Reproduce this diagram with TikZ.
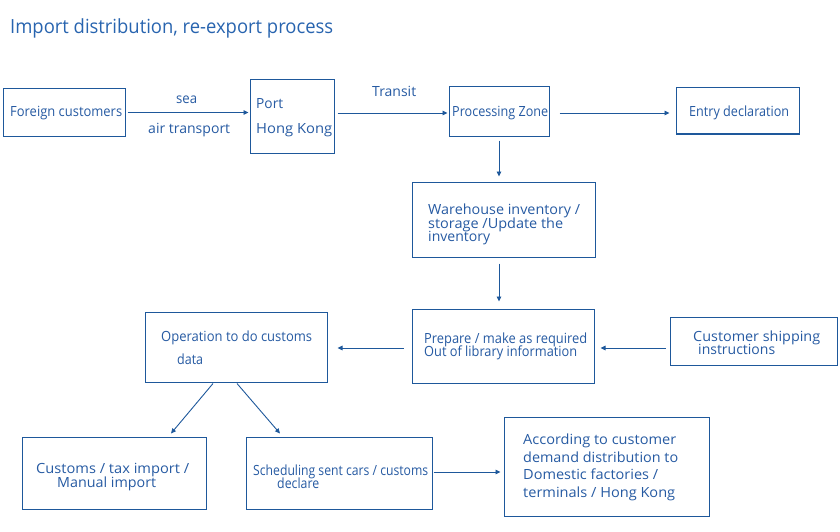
\documentclass[tikz,border=0pt]{standalone}
\usepackage{fontspec}
\setmainfont{Open Sans}
\usepackage{graphicx}
\usetikzlibrary{arrows.meta,fit}
\definecolor{linec}{RGB}{30,88,155}
\definecolor{textc}{RGB}{38,90,162}
\definecolor{titlec}{RGB}{40,100,175}
\newcommand{\tl}[5]{\node[txt, anchor=base west] (#1) at (#2,#3) {\resizebox{#4pt}{\height}{#5}};}
\newcommand{\bx}[5]{\node[boxc, fit={(#2,#3) (#4,#5)}] (#1) {};}
\begin{document}
\begin{tikzpicture}[x=1pt,y=-1pt,
  boxc/.style={draw=linec, line width=1pt, inner sep=0pt, rectangle},
  txt/.style={text=textc, inner sep=0pt, font=\fontsize{14}{16}\selectfont},
  arr/.style={draw=linec, line width=0.9pt, -{Triangle[length=5pt,width=4.5pt]}}]
\useasboundingbox (0,0) rectangle (840,532);
% title
\node[text=titlec, inner sep=0pt, anchor=base west, font=\fontsize{19.5}{22}\selectfont] (title) at (10,34) {\resizebox{323pt}{\height}{Import distribution, re-export process}};
% boxes
\bx{foreign}{3}{89}{125}{136}
\bx{port}{250}{80}{334}{153}
\bx{proc}{449}{87}{549}{136}
\bx{entry}{676}{88}{799}{134}
\bx{wh}{412}{182}{595}{257}
\bx{prep}{412}{309}{594}{383}
\bx{ship}{670}{317}{837}{365}
\bx{op}{145}{312}{327}{382}
\bx{cust}{22}{437}{206}{509}
\bx{sched}{246}{437}{432}{509}
\bx{acc}{504}{417}{709}{516}
% texts
\tl{t1}{10}{117}{112}{Foreign customers}
\tl{t2}{176}{103}{21}{sea}
\tl{t3}{148}{133}{82}{air transport}
\tl{t4}{256}{109}{27}{Port}
\tl{t5}{256}{133}{76}{Hong Kong}
\tl{t6}{372}{97}{44}{Transit}
\tl{t7}{452}{117}{96}{Processing Zone}
\tl{t8}{689}{117}{100}{Entry declaration}
\tl{t9}{428}{214}{152}{Warehouse inventory /}
\tl{t10}{428}{228}{135}{storage /Update the}
\tl{t11}{428}{241}{62}{inventory}
\tl{t12}{424}{343}{163}{Prepare / make as required}
\tl{t13}{424}{356}{153}{Out of library information}
\tl{t14}{693}{341}{127}{Customer shipping}
\tl{t15}{698}{354}{77}{instructions}
\tl{t16}{161}{341}{151}{Operation to do customs}
\tl{t17}{177}{364}{26}{data}
\tl{t18}{36}{473}{153}{Customs / tax import /}
\tl{t19}{57}{487}{99}{Manual import}
\tl{t20}{253}{475}{175}{Scheduling sent cars / customs}
\tl{t21}{277}{488}{42}{declare}
\tl{t22}{523}{444}{153}{According to customer}
\tl{t23}{523}{462}{155}{demand distribution to}
\tl{t24}{523}{479}{135}{Domestic factories /}
\tl{t25}{523}{497}{152}{terminals / Hong Kong}
% connectors
\draw[arr, shorten <=2pt, shorten >=1pt] (foreign.east) -- (foreign.east -| port.west);
\draw[arr, shorten <=3pt, shorten >=1pt] ([yshift=-1.5pt]proc.west -| port.east) -- ([yshift=-1.5pt]proc.west);
\draw[arr, shorten <=10pt, shorten >=6pt] ([yshift=-1.5pt]proc.east) -- ([yshift=-1.5pt]proc.east -| entry.west);
\draw[arr, shorten <=4pt, shorten >=5pt] (proc.south) -- (proc.south |- wh.north);
\draw[arr, shorten <=6pt, shorten >=7pt] (wh.south -| proc.south) -- (prep.north -| proc.south);
\draw[arr, shorten <=4pt, shorten >=6pt] ([yshift=-2pt]ship.west |- prep.west) -- ([yshift=-2pt]prep.east);
\draw[arr, shorten <=8pt, shorten >=10pt] ([yshift=-2pt]prep.west) -- ([yshift=-2pt]prep.west -| op.east);
\draw[arr] ([xshift=-23pt,yshift=-1pt]op.south) -- ([xshift=57pt,yshift=3pt]cust.north);
\draw[arr] ([xshift=1pt,yshift=-1pt]op.south) -- ([xshift=-59pt,yshift=3pt]sched.north);
\draw[arr, shorten <=1pt, shorten >=3pt] ([yshift=1pt]sched.east) -- ([yshift=1pt]sched.east -| acc.west);
\end{tikzpicture}
\end{document}
